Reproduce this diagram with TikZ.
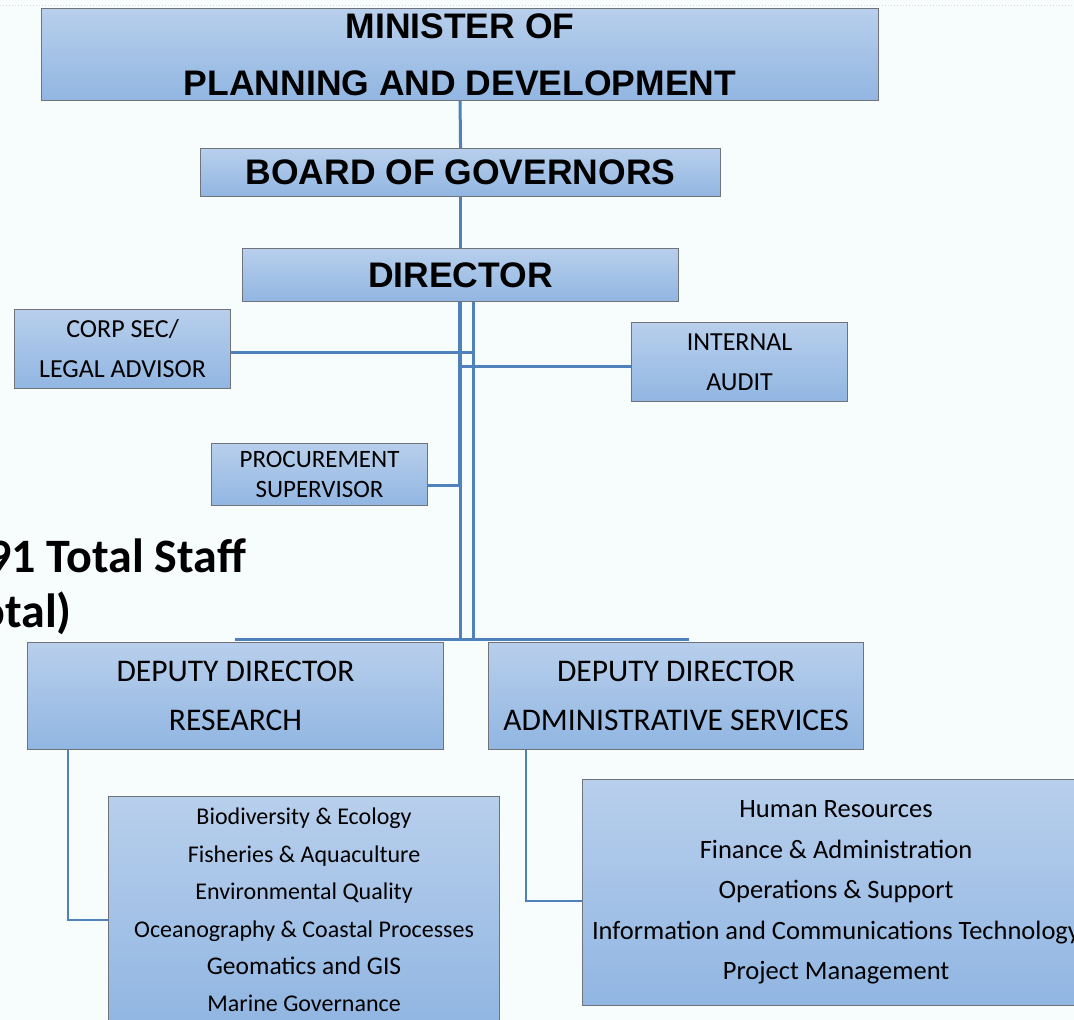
\documentclass[tikz,border=0pt]{standalone}
\usepackage{fontspec}
\setmainfont{Carlito}
\newfontfamily\hdrfont{Liberation Sans}
\definecolor{bgc}{RGB}{247,253,253}
\definecolor{boxtop}{RGB}{184,207,236}
\definecolor{boxbot}{RGB}{145,182,226}
\definecolor{boxline}{RGB}{112,116,122}
\definecolor{conncol}{RGB}{79,129,189}
\tikzset{
  orgbox/.style={draw=boxline, line width=1.1pt, top color=boxtop, bottom color=boxbot,
    inner sep=0pt, anchor=north west, align=center, text=black},
  conn/.style={draw=conncol, line width=3pt},
  thickconn/.style={draw=conncol, line width=3.8pt},
  hdr/.style={font=\hdrfont\bfseries\fontsize{35.5}{57}\selectfont},
}
\begin{document}
\begin{tikzpicture}[x=1pt,y=-1pt]
\useasboundingbox (0,0) rectangle (1074,1020);
\clip (0,0) rectangle (1074,1020);
\fill[bgc] (0,0) rectangle (1074,1020);
\draw[gray!30, dotted, line width=1pt] (0,5) -- (1074,5);

% boxes
\node[orgbox, hdr, minimum width=837pt, minimum height=92pt] (minister) at (41,8)
  {MINISTER OF\\PLANNING AND DEVELOPMENT};
\node[orgbox, hdr, minimum width=520pt, minimum height=48pt] (board) at (200,148)
  {BOARD OF GOVERNORS};
\node[orgbox, hdr, minimum width=436pt, minimum height=53pt] (director) at (242,248)
  {DIRECTOR};
\node[orgbox, font=\fontsize{26}{40}\selectfont, minimum width=216pt, minimum height=79pt] (corpsec) at (14,309)
  {CORP SEC/\\LEGAL ADVISOR};
\node[orgbox, font=\fontsize{26}{40}\selectfont, minimum width=216pt, minimum height=79pt] (audit) at (631,322)
  {INTERNAL\\AUDIT};
\node[orgbox, font=\fontsize{25}{30}\selectfont, minimum width=216pt, minimum height=62pt] (proc) at (211,443)
  {PROCUREMENT\\SUPERVISOR};
\node[orgbox, font=\fontsize{31.5}{49}\selectfont, minimum width=416pt, minimum height=107pt] (dres) at (27,642)
  {DEPUTY DIRECTOR\\RESEARCH};
\node[orgbox, font=\fontsize{31.5}{49}\selectfont, minimum width=375pt, minimum height=107pt] (dadm) at (488,642)
  {DEPUTY DIRECTOR\\ADMINISTRATIVE SERVICES};
\node[orgbox, font=\fontsize{24}{37.4}\selectfont, minimum width=391pt, minimum height=227pt] (rlist) at (108,796)
  {Biodiversity \& Ecology\\Fisheries \& Aquaculture\\Environmental Quality\\Oceanography \& Coastal Processes\\{\fontsize{25.5}{37.4}\selectfont Geomatics and GIS}\\Marine Governance};
\node[orgbox, font=\fontsize{26.5}{40.5}\selectfont, minimum width=507pt, minimum height=226pt] (alist) at (582,779)
  {Human Resources\\Finance \& Administration\\Operations \& Support\\Information and Communications Technology\\Project Management};

% staff text (cut at left edge, as in the reference)
\node[anchor=base east, inner sep=0pt, font=\bfseries\fontsize{48}{56}\selectfont] (staff1) at (246,572) {91 Total Staff};
\node[anchor=base east, inner sep=0pt, font=\bfseries\fontsize{48}{56}\selectfont] (staff2) at (72,627) {otal)};

% connectors
\draw[conn] (minister.south) -- (board.north);
\draw[conn] (board.south) -- (director.north);

\coordinate (vA) at (460,639);
\coordinate (vB) at (473,639);
\coordinate (csj) at (474,352);
\coordinate (iaj) at (460,366);
\coordinate (prj) at (460,485);
\coordinate (busL) at (235,639);
\coordinate (busR) at (689,639);
\coordinate (rc) at (68,920);
\coordinate (ac) at (526,901);

\draw[conn] (director.south -| vA) -- (vA);
\draw[thickconn] (director.south -| prj) -- (prj);
\draw[conn] (director.south -| vB) -- (vB);
\draw[conn] (corpsec.east |- csj) -- (csj);
\draw[conn] (iaj) -- (iaj -| audit.west);
\draw[conn] (proc.east |- prj) -- (prj);
\draw[conn] (busL) -- (busR);
\draw[conn, line width=2.5pt] (rc |- dres.south) -- (rc) -- (rc -| rlist.west);
\draw[conn, line width=2.5pt] (ac |- dadm.south) -- (ac) -- (ac -| alist.west);
\end{tikzpicture}
\end{document}
